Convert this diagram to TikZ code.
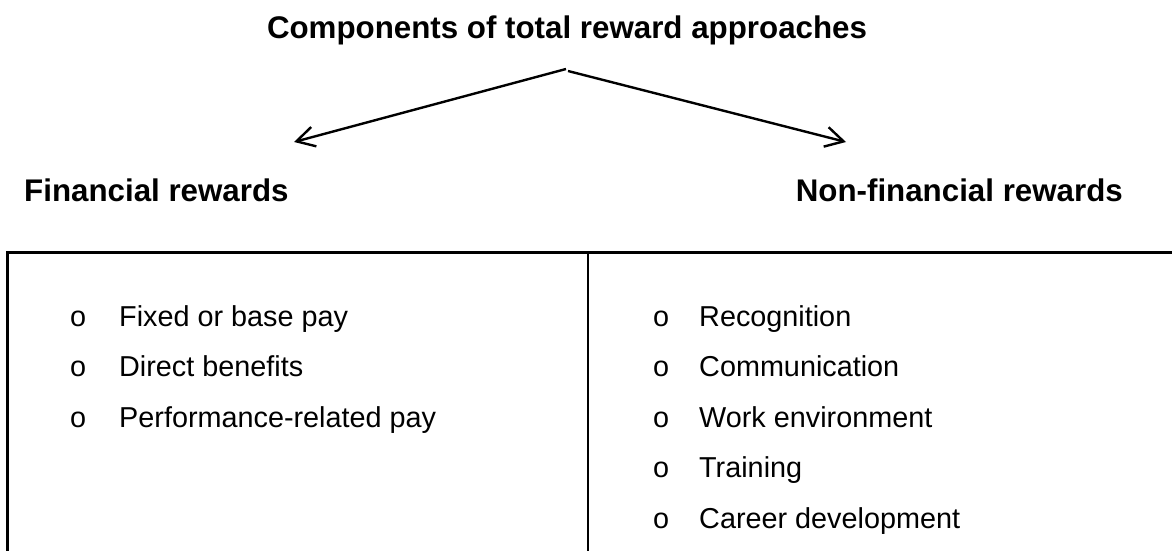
\documentclass[tikz,border=0pt]{standalone}
\usepackage{fontspec}
\setmainfont{Liberation Sans}
\usetikzlibrary{arrows.meta}

\begin{document}
\begin{tikzpicture}[x=1pt,y=-1pt]
  \tikzstyle{every node}=[inner sep=0pt]
  \tikzstyle{heading}=[font=\fontsize{31.3}{37}\selectfont\bfseries]
  \tikzstyle{item}=[font=\fontsize{28.8}{34}\selectfont,anchor=base west]
  \tikzstyle{branch}=[line width=2.4pt,-{Straight Barb[length=18pt,width=20pt]}]
  \useasboundingbox (0,0) rectangle (1172,551);
  % headings
  \node[heading,anchor=base] (title) at (567,38) {Components of total reward approaches};
  \node[heading,anchor=base west] (fin) at (24,201) {Financial rewards};
  \node[heading,anchor=base east] (nonfin) at (1123,201) {Non-financial rewards};
  % the two branches
  \coordinate (apexl) at (566,69);
  \coordinate (apexr) at (568,71);
  \coordinate (tipl) at (294,142);
  \coordinate (tipr) at (846,142);
  \draw[branch] (apexl) -- (tipl);
  \draw[branch] (apexr) -- (tipr);
  % table
  \coordinate (tl) at (7.5,252.5);
  \coordinate (tr) at (1180,252.5);
  \coordinate (bl) at (7.5,560);
  \coordinate (mt) at (588,252.5);
  \coordinate (mb) at (588,560);
  \draw[line width=2.6pt] (bl) -- (tl) -- (tr);
  \draw[line width=1.5pt] (mt) -- (mb);
  % lists
  \foreach \t [count=\i] in {Fixed or base pay,Direct benefits,Performance-related pay}{
    \node[item] (finb\i) at (70,{275.4+50.6*\i}) {o};
    \node[item] (fin\i) at (119,{275.4+50.6*\i}) {\t};
  }
  \foreach \t [count=\i] in {Recognition,Communication,Work environment,Training,Career development}{
    \node[item] (nonb\i) at (653,{275.4+50.6*\i}) {o};
    \node[item] (non\i) at (699,{275.4+50.6*\i}) {\t};
  }
\end{tikzpicture}
\end{document}
